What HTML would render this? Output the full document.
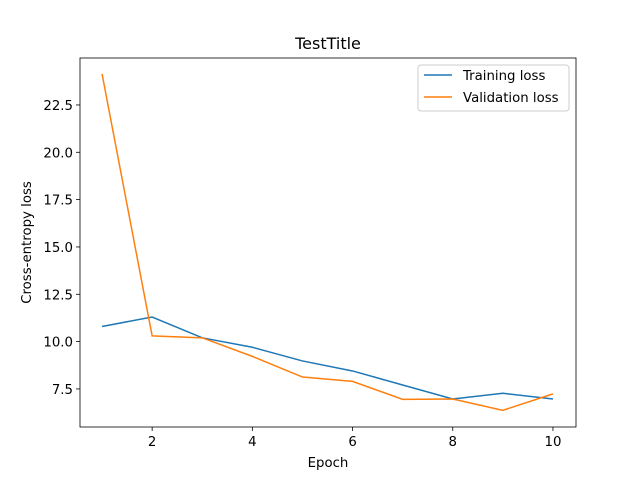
<!DOCTYPE html>
<html><head><meta charset="utf-8"><style>
body{margin:0;background:#fff;}
svg{display:block;font-family:"DejaVu Sans","Liberation Sans",sans-serif;}
</style></head><body>
<svg id="chart" width="640" height="480">
<rect width="640" height="480" fill="#fff"/>
</svg>
<script>
const epochs=[1,2,3,4,5,6,7,8,9,10];
const trainLoss=[10.8,11.3,10.2,9.7,8.98,8.45,7.71,6.97,7.27,6.97];
const valLoss=[24.14,10.3,10.2,9.22,8.13,7.9,6.95,6.97,6.37,7.24];
const xTicks=[2,4,6,8,10];
const yTicks=[7.5,10.0,12.5,15.0,17.5,20.0,22.5];
const yTickLabels=["7.5","10.0","12.5","15.0","17.5","20.0","22.5"];

const L=80,R=576,T=58,B=427;
const xMin=0.56,xMax=10.46,yMin=5.49,yMax=24.98;
const sx=v=>L+(v-xMin)/(xMax-xMin)*(R-L);
const sy=v=>B-(v-yMin)/(yMax-yMin)*(B-T);
const svg=document.getElementById('chart');
const NS='http://www.w3.org/2000/svg';
function mk(tag,attrs,parent){const e=document.createElementNS(NS,tag);for(const k in attrs)e.setAttribute(k,attrs[k]);(parent||svg).appendChild(e);return e;}

xTicks.forEach(t=>{
  const g=mk('g',{});
  
  
  mk('line',{x1:sx(t),x2:sx(t),y1:B,y2:B+4,stroke:'#000','stroke-width':0.8},g);
  const tx=mk('text',{x:sx(t),y:B+19,'font-size':13.3,'text-anchor':'middle',fill:'#000'},g);tx.textContent=t;
});
yTicks.forEach((t,i)=>{
  const g=mk('g',{});
  
  
  mk('line',{x1:L-4,x2:L,y1:sy(t),y2:sy(t),stroke:'#000','stroke-width':0.8},g);
  const tx=mk('text',{x:L-7,y:sy(t)+5,'font-size':13.3,'text-anchor':'end',fill:'#000'},g);tx.textContent=yTickLabels[i];
});

function series(vals,color,name){
  const p=mk('polyline',{points:epochs.map((e,i)=>sx(e)+','+sy(vals[i])).join(' '),fill:'none',stroke:color,'stroke-width':1.5});
  
  
}
series(trainLoss,'#1f77b4','training-loss-line');
series(valLoss,'#ff7f0e','validation-loss-line');

const frame=mk('rect',{x:L,y:T,width:R-L,height:B-T,fill:'none',stroke:'#000','stroke-width':0.8});



const title=mk('text',{x:(L+R)/2,y:49,'font-size':16,'text-anchor':'middle'});title.textContent='TestTitle';


const xl=mk('text',{x:(L+R)/2,y:467,'font-size':13.3,'text-anchor':'middle'});xl.textContent='Epoch';


const yl=mk('text',{x:31,y:(T+B)/2,'font-size':13.3,'text-anchor':'middle',transform:'rotate(-90 31 '+(T+B)/2+')'});yl.textContent='Cross-entropy loss';



const lg=mk('g',{});


mk('rect',{x:418,y:65,width:151,height:46,rx:3,fill:'#fff','fill-opacity':0.8,stroke:'#ccc','stroke-width':1},lg);
[['Training loss','#1f77b4',75],['Validation loss','#ff7f0e',97]].forEach(([lab,c,y])=>{
  const g=mk('g',{},lg);
  
  
  mk('line',{x1:424,x2:452,y1:y,y2:y,stroke:c,'stroke-width':1.5},g);
  const t=mk('text',{x:463,y:y+5,'font-size':13.3},g);t.textContent=lab;
});
</script>
</body></html>
